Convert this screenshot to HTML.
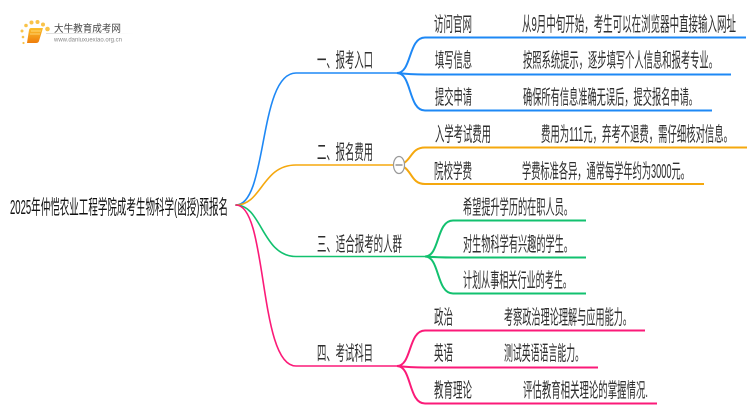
<!DOCTYPE html>
<html><head><meta charset="utf-8">
<style>
html,body{margin:0;padding:0;background:#fff;width:750px;height:410px;overflow:hidden}
svg{display:block}
text{font-family:"Liberation Sans","Noto Sans CJK SC",sans-serif;font-size:20px;fill:#2e2e2e;}
.r{fill:#111}
</style></head><body>
<svg width="750" height="410" viewBox="0 0 750 410" xmlns="http://www.w3.org/2000/svg">
<defs>
<linearGradient id="bk" x1="0" y1="0" x2="0" y2="1"><stop offset="0" stop-color="#fbc02d"/><stop offset="1" stop-color="#ef7d0b"/></linearGradient>
<linearGradient id="ln" x1="0" y1="0" x2="1" y2="0"><stop offset="0" stop-color="#ddd"/><stop offset="1" stop-color="#fff"/></linearGradient>
</defs>
<!-- logo -->
<g fill="#f9c349">
<circle cx="23" cy="37" r="1.3"/><circle cx="22" cy="31" r="1.5"/><circle cx="26" cy="25.5" r="1.8"/><circle cx="31.5" cy="22.5" r="2"/><circle cx="37.5" cy="22" r="2"/><circle cx="43" cy="24.5" r="2"/><circle cx="47.5" cy="29" r="2.3"/><circle cx="23.5" cy="43" r="1.1"/>
</g>
<path d="M31 28 H43 L39 41 Q38.5 43 36 43 H27 L29 30 Q29.5 28 31 28Z" fill="url(#bk)"/>
<path d="M31 31 H41 M30 34 H40" stroke="#ffe08a" stroke-width="0.8" fill="none"/>
<rect x="46" y="33" width="88" height="1" fill="url(#ln)"/>
<text x="54" y="32" textLength="67" lengthAdjust="spacingAndGlyphs" style="font-size:10px;fill:#444">大牛教育成考网</text>
<text x="54" y="41.5" textLength="68" lengthAdjust="spacingAndGlyphs" style="font-size:6.5px;fill:#888">www.daniuxuexiao.org.cn</text>

<!-- root links -->
<g fill="none" stroke-width="1.6" stroke-linecap="round">
<path d="M236 205 C268 205 258 73 296 73 H397" stroke="#1e88f5"/>
<path d="M236 205 C262 205 262 165 296 165 H393" stroke="#f5a80e"/>
<path d="M236 205 C262 205 262 256.5 296 256.5 H425" stroke="#12c16f"/>
<path d="M236 205 C268 205 258 366 296 366 H397" stroke="#fb1a78"/>
</g>
<!-- sub links -->
<g fill="none" stroke-width="2">
<g stroke="#1e88f5">
<path d="M397 73 C412 73 408 37.5 425 37.5 H746"/>
<path d="M397 73 Q410 74.5 425 74.5 H731"/>
<path d="M397 73 C412 73 408 110.5 425 110.5 H712"/>
</g>
<g stroke="#f5a80e">
<path d="M404 163 C412 158 412 147.5 425 147.5 H747"/>
<path d="M404 167 C412 172 412 184 425 184 H704"/>
</g>
<g stroke="#12c16f">
<path d="M425 256.5 C440 256.5 436 220.5 453 220.5 H586"/>
<path d="M425 256.5 Q438 257.5 453 257.5 H586"/>
<path d="M425 256.5 C440 256.5 436 293.5 453 293.5 H586"/>
</g>
<g stroke="#fb1a78">
<path d="M397 366 C412 366 408 330.5 425 330.5 H645"/>
<path d="M397 366 Q410 367.5 425 367.5 H598"/>
<path d="M397 366 C412 366 408 403.5 425 403.5 H657"/>
</g>
</g>
<!-- collapse -->
<ellipse cx="399" cy="165" rx="5.5" ry="8.5" fill="#fff" stroke="#999" stroke-width="1.2"/>
<path d="M395.5 165 H402.5" stroke="#777" stroke-width="1.2"/>

<!-- labels -->
<text class="r" x="10" y="214" textLength="218" lengthAdjust="spacingAndGlyphs">2025年仲恺农业工程学院成考生物科学(函授)预报名</text>
<text x="317" y="67" textLength="56" lengthAdjust="spacingAndGlyphs">一、报考入口</text>
<text x="317" y="159" textLength="56" lengthAdjust="spacingAndGlyphs">二、报名费用</text>
<text x="317" y="251" textLength="85" lengthAdjust="spacingAndGlyphs">三、适合报考的人群</text>
<text x="317" y="360" textLength="56" lengthAdjust="spacingAndGlyphs">四、考试科目</text>

<text x="434" y="31" textLength="38" lengthAdjust="spacingAndGlyphs">访问官网</text>
<text x="522" y="31" textLength="214" lengthAdjust="spacingAndGlyphs">从9月中旬开始，考生可以在浏览器中直接输入网址</text>
<text x="435" y="67" textLength="37" lengthAdjust="spacingAndGlyphs">填写信息</text>
<text x="523" y="67" textLength="195" lengthAdjust="spacingAndGlyphs">按照系统提示，逐步填写个人信息和报考专业。</text>
<text x="435" y="104" textLength="37" lengthAdjust="spacingAndGlyphs">提交申请</text>
<text x="523" y="104" textLength="175" lengthAdjust="spacingAndGlyphs">确保所有信息准确无误后，提交报名申请。</text>

<text x="435" y="141" textLength="56" lengthAdjust="spacingAndGlyphs">入学考试费用</text>
<text x="541" y="141" textLength="192" lengthAdjust="spacingAndGlyphs">费用为111元，弃考不退费，需仔细核对信息。</text>
<text x="434" y="178" textLength="38" lengthAdjust="spacingAndGlyphs">院校学费</text>
<text x="522" y="178" textLength="168" lengthAdjust="spacingAndGlyphs">学费标准各异，通常每学年约为3000元。</text>

<text x="463" y="214" textLength="110" lengthAdjust="spacingAndGlyphs">希望提升学历的在职人员。</text>
<text x="463" y="251" textLength="110" lengthAdjust="spacingAndGlyphs">对生物科学有兴趣的学生。</text>
<text x="463" y="287" textLength="109" lengthAdjust="spacingAndGlyphs">计划从事相关行业的考生。</text>

<text x="434" y="324" textLength="19" lengthAdjust="spacingAndGlyphs">政治</text>
<text x="504" y="324" textLength="128" lengthAdjust="spacingAndGlyphs">考察政治理论理解与应用能力。</text>
<text x="434" y="360" textLength="19" lengthAdjust="spacingAndGlyphs">英语</text>
<text x="504" y="360" textLength="80" lengthAdjust="spacingAndGlyphs">测试英语语言能力。</text>
<text x="434" y="397" textLength="38" lengthAdjust="spacingAndGlyphs">教育理论</text>
<text x="523" y="397" textLength="125" lengthAdjust="spacingAndGlyphs">评估教育相关理论的掌握情况.</text>
</svg>
</body></html>
